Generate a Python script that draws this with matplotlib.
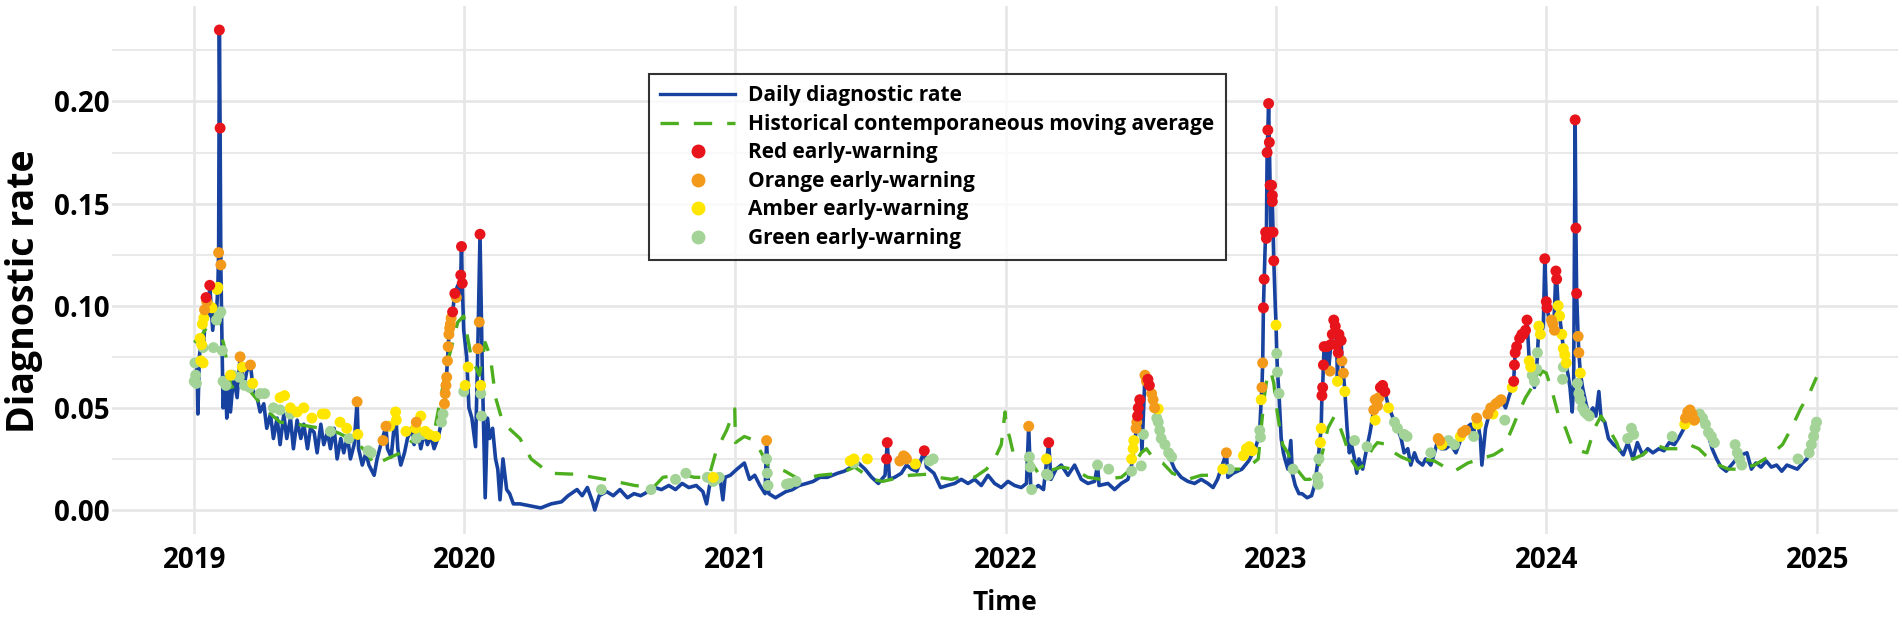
import matplotlib
matplotlib.use('Agg')
import matplotlib.pyplot as plt
from matplotlib.lines import Line2D
import pandas as pd

# Daily diagnostic rate (key days)
rate_points = [
    ('2019-01-01', 0.063), ('2019-01-05', 0.070), ('2019-01-06', 0.047), ('2019-01-08', 0.075),
    ('2019-01-11', 0.085), ('2019-01-14', 0.082), ('2019-01-17', 0.104), ('2019-01-20', 0.095),
    ('2019-01-22', 0.110), ('2019-01-26', 0.088), ('2019-01-29', 0.100), ('2019-01-31', 0.095),
    ('2019-02-02', 0.110), ('2019-02-03', 0.126), ('2019-02-04', 0.235), ('2019-02-05', 0.187),
    ('2019-02-06', 0.120), ('2019-02-07', 0.095), ('2019-02-09', 0.050), ('2019-02-12', 0.065),
    ('2019-02-14', 0.045), ('2019-02-16', 0.062), ('2019-02-19', 0.048), ('2019-02-23', 0.065),
    ('2019-02-28', 0.055), ('2019-03-04', 0.075), ('2019-03-09', 0.060), ('2019-03-13', 0.068),
    ('2019-03-18', 0.071), ('2019-03-22', 0.058), ('2019-03-27', 0.055), ('2019-03-31', 0.048),
    ('2019-04-05', 0.052), ('2019-04-09', 0.040), ('2019-04-14', 0.047), ('2019-04-18', 0.035),
    ('2019-04-23', 0.045), ('2019-04-27', 0.032), ('2019-05-02', 0.047), ('2019-05-06', 0.035),
    ('2019-05-11', 0.045), ('2019-05-15', 0.030), ('2019-05-20', 0.044), ('2019-05-25', 0.035),
    ('2019-05-29', 0.042), ('2019-06-03', 0.030), ('2019-06-07', 0.040), ('2019-06-12', 0.038),
    ('2019-06-16', 0.028), ('2019-06-21', 0.042), ('2019-06-25', 0.032), ('2019-06-30', 0.038),
    ('2019-07-04', 0.030), ('2019-07-09', 0.040), ('2019-07-13', 0.025), ('2019-07-18', 0.035),
    ('2019-07-22', 0.028), ('2019-07-27', 0.036), ('2019-07-31', 0.025), ('2019-08-05', 0.032),
    ('2019-08-09', 0.053), ('2019-08-11', 0.030), ('2019-08-16', 0.022), ('2019-08-21', 0.028),
    ('2019-08-25', 0.022), ('2019-09-01', 0.017), ('2019-09-05', 0.025), ('2019-09-10', 0.032),
    ('2019-09-17', 0.041), ('2019-09-19', 0.030), ('2019-09-24', 0.026), ('2019-09-30', 0.048),
    ('2019-10-03', 0.030), ('2019-10-07', 0.022), ('2019-10-12', 0.028), ('2019-10-16', 0.035),
    ('2019-10-21', 0.040), ('2019-10-25', 0.032), ('2019-10-28', 0.043), ('2019-11-03', 0.030),
    ('2019-11-08', 0.038), ('2019-11-12', 0.032), ('2019-11-17', 0.036), ('2019-11-21', 0.030),
    ('2019-11-26', 0.035), ('2019-12-01', 0.043), ('2019-12-05', 0.052), ('2019-12-07', 0.061),
    ('2019-12-09', 0.073), ('2019-12-11', 0.086), ('2019-12-14', 0.094), ('2019-12-16', 0.097),
    ('2019-12-19', 0.106), ('2019-12-23', 0.110), ('2019-12-26', 0.105), ('2019-12-27', 0.115),
    ('2019-12-28', 0.129), ('2019-12-29', 0.111), ('2019-12-31', 0.088), ('2020-01-04', 0.075),
    ('2020-01-07', 0.050), ('2020-01-11', 0.045), ('2020-01-16', 0.031), ('2020-01-19', 0.079),
    ('2020-01-22', 0.135), ('2020-01-25', 0.070), ('2020-01-29', 0.006), ('2020-02-01', 0.045),
    ('2020-02-04', 0.035), ('2020-02-08', 0.040), ('2020-02-12', 0.025), ('2020-02-15', 0.020),
    ('2020-02-18', 0.005), ('2020-02-22', 0.025), ('2020-02-27', 0.010), ('2020-03-02', 0.008),
    ('2020-03-07', 0.003), ('2020-03-16', 0.003), ('2020-03-30', 0.002), ('2020-04-13', 0.001),
    ('2020-04-27', 0.003), ('2020-05-11', 0.004), ('2020-05-20', 0.007), ('2020-06-01', 0.010),
    ('2020-06-08', 0.007), ('2020-06-15', 0.011), ('2020-06-22', 0.004), ('2020-06-25', 0.000),
    ('2020-07-01', 0.007), ('2020-07-11', 0.009), ('2020-07-20', 0.007), ('2020-07-29', 0.010),
    ('2020-08-08', 0.006), ('2020-08-17', 0.008), ('2020-08-26', 0.007), ('2020-09-05', 0.009),
    ('2020-09-14', 0.011), ('2020-09-23', 0.010), ('2020-10-03', 0.012), ('2020-10-12', 0.010),
    ('2020-10-21', 0.013), ('2020-10-30', 0.011), ('2020-11-09', 0.012), ('2020-11-18', 0.009),
    ('2020-11-23', 0.003), ('2020-11-27', 0.012), ('2020-12-07', 0.014), ('2020-12-11', 0.016),
    ('2020-12-15', 0.005), ('2020-12-18', 0.016), ('2020-12-25', 0.017), ('2021-01-03', 0.020),
    ('2021-01-13', 0.023), ('2021-01-20', 0.015), ('2021-01-27', 0.017), ('2021-02-03', 0.012),
    ('2021-02-10', 0.008), ('2021-02-12', 0.034), ('2021-02-15', 0.008), ('2021-02-24', 0.006),
    ('2021-03-10', 0.009), ('2021-03-19', 0.010), ('2021-03-28', 0.012), ('2021-04-07', 0.013),
    ('2021-04-16', 0.014), ('2021-04-25', 0.016), ('2021-05-05', 0.016), ('2021-05-19', 0.018),
    ('2021-05-28', 0.019), ('2021-06-06', 0.021), ('2021-06-16', 0.023), ('2021-06-25', 0.020),
    ('2021-07-04', 0.016), ('2021-07-13', 0.013), ('2021-07-22', 0.017), ('2021-07-25', 0.033),
    ('2021-07-28', 0.015), ('2021-08-04', 0.016), ('2021-08-13', 0.018), ('2021-08-20', 0.022),
    ('2021-08-27', 0.020), ('2021-09-03', 0.019), ('2021-09-13', 0.029), ('2021-09-16', 0.021),
    ('2021-09-26', 0.018), ('2021-10-05', 0.011), ('2021-10-14', 0.012), ('2021-10-24', 0.013),
    ('2021-11-02', 0.015), ('2021-11-11', 0.013), ('2021-11-20', 0.015), ('2021-11-29', 0.012),
    ('2021-12-08', 0.017), ('2021-12-17', 0.013), ('2021-12-26', 0.011), ('2022-01-04', 0.014),
    ('2022-01-13', 0.012), ('2022-01-22', 0.011), ('2022-01-29', 0.013), ('2022-02-01', 0.041),
    ('2022-02-04', 0.009), ('2022-02-14', 0.012), ('2022-02-21', 0.010), ('2022-02-28', 0.033),
    ('2022-03-03', 0.015), ('2022-03-10', 0.020), ('2022-03-17', 0.022), ('2022-03-26', 0.017),
    ('2022-04-04', 0.022), ('2022-04-13', 0.015), ('2022-04-22', 0.013), ('2022-05-01', 0.014),
    ('2022-05-05', 0.022), ('2022-05-07', 0.012), ('2022-05-19', 0.013), ('2022-05-28', 0.010),
    ('2022-06-06', 0.013), ('2022-06-15', 0.015), ('2022-06-20', 0.022), ('2022-06-24', 0.032),
    ('2022-06-28', 0.046), ('2022-07-01', 0.054), ('2022-07-04', 0.029), ('2022-07-08', 0.066),
    ('2022-07-11', 0.063), ('2022-07-14', 0.061), ('2022-07-19', 0.054), ('2022-07-23', 0.048),
    ('2022-07-28', 0.040), ('2022-08-01', 0.035), ('2022-08-06', 0.030), ('2022-08-10', 0.026),
    ('2022-08-17', 0.020), ('2022-08-26', 0.016), ('2022-09-04', 0.014), ('2022-09-13', 0.013),
    ('2022-09-22', 0.015), ('2022-10-01', 0.013), ('2022-10-08', 0.011), ('2022-10-14', 0.015),
    ('2022-10-26', 0.028), ('2022-10-28', 0.016), ('2022-11-04', 0.018), ('2022-11-16', 0.020),
    ('2022-11-25', 0.024), ('2022-12-04', 0.030), ('2022-12-08', 0.035), ('2022-12-10', 0.039),
    ('2022-12-12', 0.054), ('2022-12-13', 0.060), ('2022-12-14', 0.072), ('2022-12-15', 0.099),
    ('2022-12-16', 0.113), ('2022-12-17', 0.125), ('2022-12-18', 0.136), ('2022-12-19', 0.133),
    ('2022-12-20', 0.175), ('2022-12-21', 0.186), ('2022-12-22', 0.199), ('2022-12-23', 0.180),
    ('2022-12-24', 0.159), ('2022-12-25', 0.136), ('2022-12-26', 0.159), ('2022-12-27', 0.151),
    ('2022-12-28', 0.136), ('2022-12-29', 0.122), ('2022-12-31', 0.100), ('2023-01-01', 0.091),
    ('2023-01-02', 0.077), ('2023-01-03', 0.068), ('2023-01-05', 0.057), ('2023-01-08', 0.035),
    ('2023-01-11', 0.028), ('2023-01-13', 0.025), ('2023-01-17', 0.020), ('2023-01-21', 0.034),
    ('2023-01-23', 0.018), ('2023-01-27', 0.012), ('2023-02-01', 0.008), ('2023-02-05', 0.008),
    ('2023-02-12', 0.006), ('2023-02-18', 0.007), ('2023-02-22', 0.012), ('2023-02-27', 0.025),
    ('2023-03-01', 0.033), ('2023-03-03', 0.040), ('2023-03-04', 0.056), ('2023-03-05', 0.060),
    ('2023-03-06', 0.071), ('2023-03-07', 0.080), ('2023-03-09', 0.073), ('2023-03-11', 0.080),
    ('2023-03-13', 0.068), ('2023-03-16', 0.081), ('2023-03-18', 0.086), ('2023-03-20', 0.093),
    ('2023-03-22', 0.090), ('2023-03-24', 0.081), ('2023-03-25', 0.063), ('2023-03-26', 0.077),
    ('2023-03-27', 0.086), ('2023-03-30', 0.083), ('2023-03-31', 0.073), ('2023-04-02', 0.067),
    ('2023-04-04', 0.058), ('2023-04-07', 0.040), ('2023-04-10', 0.028), ('2023-04-13', 0.032),
    ('2023-04-17', 0.025), ('2023-04-20', 0.018), ('2023-04-23', 0.025), ('2023-04-28', 0.020),
    ('2023-05-04', 0.031), ('2023-05-08', 0.038), ('2023-05-13', 0.049), ('2023-05-18', 0.051),
    ('2023-05-22', 0.060), ('2023-05-25', 0.061), ('2023-05-28', 0.058), ('2023-06-01', 0.052),
    ('2023-06-05', 0.048), ('2023-06-10', 0.043), ('2023-06-14', 0.040), ('2023-06-19', 0.035),
    ('2023-06-23', 0.028), ('2023-06-28', 0.030), ('2023-07-02', 0.022), ('2023-07-07', 0.028),
    ('2023-07-11', 0.024), ('2023-07-18', 0.022), ('2023-07-22', 0.025), ('2023-07-29', 0.022),
    ('2023-08-03', 0.028), ('2023-08-08', 0.035), ('2023-08-12', 0.030), ('2023-08-18', 0.030),
    ('2023-08-25', 0.032), ('2023-09-01', 0.028), ('2023-09-08', 0.035), ('2023-09-14', 0.040),
    ('2023-09-21', 0.042), ('2023-09-25', 0.038), ('2023-09-29', 0.046), ('2023-10-04', 0.035),
    ('2023-10-06', 0.022), ('2023-10-11', 0.040), ('2023-10-18', 0.050), ('2023-10-25', 0.052),
    ('2023-11-01', 0.054), ('2023-11-07', 0.050), ('2023-11-12', 0.056), ('2023-11-16', 0.060),
    ('2023-11-18', 0.063), ('2023-11-19', 0.071), ('2023-11-20', 0.077), ('2023-11-22', 0.080),
    ('2023-11-24', 0.078), ('2023-11-26', 0.084), ('2023-11-29', 0.086), ('2023-12-01', 0.086),
    ('2023-12-04', 0.088), ('2023-12-06', 0.093), ('2023-12-09', 0.073), ('2023-12-13', 0.066),
    ('2023-12-16', 0.060), ('2023-12-19', 0.069), ('2023-12-22', 0.090), ('2023-12-25', 0.086),
    ('2023-12-28', 0.090), ('2023-12-30', 0.123), ('2024-01-01', 0.102), ('2024-01-02', 0.099),
    ('2024-01-05', 0.093), ('2024-01-08', 0.091), ('2024-01-11', 0.088), ('2024-01-14', 0.117),
    ('2024-01-15', 0.113), ('2024-01-17', 0.100), ('2024-01-19', 0.095), ('2024-01-22', 0.086),
    ('2024-01-24', 0.079), ('2024-01-27', 0.072), ('2024-01-30', 0.067), ('2024-02-02', 0.060),
    ('2024-02-05', 0.048), ('2024-02-07', 0.062), ('2024-02-09', 0.191), ('2024-02-10', 0.138),
    ('2024-02-11', 0.106), ('2024-02-13', 0.085), ('2024-02-14', 0.077), ('2024-02-16', 0.067),
    ('2024-02-19', 0.060), ('2024-02-23', 0.053), ('2024-02-27', 0.047), ('2024-03-04', 0.050),
    ('2024-03-08', 0.046), ('2024-03-12', 0.058), ('2024-03-15', 0.045), ('2024-03-20', 0.043),
    ('2024-03-25', 0.035), ('2024-04-01', 0.032), ('2024-04-08', 0.030), ('2024-04-14', 0.027),
    ('2024-04-20', 0.033), ('2024-04-27', 0.025), ('2024-05-03', 0.033), ('2024-05-10', 0.027),
    ('2024-05-17', 0.030), ('2024-05-24', 0.028), ('2024-06-01', 0.030), ('2024-06-08', 0.029),
    ('2024-06-15', 0.033), ('2024-06-22', 0.032), ('2024-06-29', 0.036), ('2024-07-05', 0.040),
    ('2024-07-10', 0.048), ('2024-07-16', 0.047), ('2024-07-22', 0.046), ('2024-08-01', 0.042),
    ('2024-08-06', 0.038), ('2024-08-12', 0.030), ('2024-08-18', 0.025), ('2024-08-24', 0.021),
    ('2024-08-31', 0.019), ('2024-09-07', 0.022), ('2024-09-14', 0.025), ('2024-09-21', 0.027),
    ('2024-09-28', 0.028), ('2024-10-04', 0.020), ('2024-10-10', 0.023), ('2024-10-17', 0.021),
    ('2024-10-24', 0.024), ('2024-10-31', 0.021), ('2024-11-07', 0.022), ('2024-11-14', 0.019),
    ('2024-11-21', 0.022), ('2024-11-28', 0.021), ('2024-12-05', 0.020), ('2024-12-12', 0.023),
    ('2024-12-18', 0.025), ('2024-12-22', 0.030), ('2024-12-26', 0.036), ('2024-12-31', 0.042),
]

# Historical contemporaneous moving average
average_points = [
    ('2019-01-01', 0.082), ('2019-01-10', 0.085), ('2019-01-23', 0.092), ('2019-02-01', 0.097),
    ('2019-02-07', 0.085), ('2019-02-10', 0.081), ('2019-02-20', 0.060), ('2019-03-04', 0.062),
    ('2019-03-18', 0.058), ('2019-04-05', 0.050), ('2019-04-27', 0.043), ('2019-05-20', 0.042),
    ('2019-06-21', 0.040), ('2019-07-13', 0.038), ('2019-08-05', 0.034), ('2019-08-23', 0.028),
    ('2019-09-01', 0.022), ('2019-09-18', 0.025), ('2019-10-07', 0.028), ('2019-10-25', 0.035),
    ('2019-11-21', 0.038), ('2019-12-09', 0.072), ('2019-12-23', 0.092), ('2019-12-31', 0.095),
    ('2020-01-10', 0.075), ('2020-01-21', 0.066), ('2020-01-29', 0.082), ('2020-02-05', 0.075),
    ('2020-02-12', 0.055), ('2020-02-20', 0.045), ('2020-03-01', 0.040), ('2020-03-16', 0.035),
    ('2020-03-31', 0.025), ('2020-04-25', 0.018), ('2020-05-30', 0.0175), ('2020-07-09', 0.015),
    ('2020-08-18', 0.012), ('2020-09-12', 0.011), ('2020-09-25', 0.016), ('2020-10-23', 0.0175),
    ('2020-11-06', 0.016), ('2020-11-26', 0.016), ('2020-12-06', 0.029), ('2020-12-20', 0.039),
    ('2020-12-31', 0.0495), ('2021-01-01', 0.033), ('2021-01-13', 0.036), ('2021-01-27', 0.034),
    ('2021-02-14', 0.022), ('2021-03-09', 0.019), ('2021-03-28', 0.015), ('2021-04-25', 0.017),
    ('2021-05-23', 0.018), ('2021-06-11', 0.021), ('2021-07-05', 0.015), ('2021-07-19', 0.014),
    ('2021-08-11', 0.016), ('2021-08-25', 0.017), ('2021-09-17', 0.0175), ('2021-10-01', 0.016),
    ('2021-10-20', 0.015), ('2021-11-08', 0.017), ('2021-11-20', 0.016), ('2021-12-06', 0.020),
    ('2021-12-17', 0.025), ('2021-12-26', 0.032), ('2021-12-31', 0.048), ('2022-01-02', 0.040),
    ('2022-01-06', 0.036), ('2022-01-11', 0.028), ('2022-01-22', 0.026), ('2022-02-05', 0.023),
    ('2022-02-14', 0.018), ('2022-02-27', 0.019), ('2022-03-17', 0.021), ('2022-04-02', 0.020),
    ('2022-04-22', 0.016), ('2022-05-10', 0.015), ('2022-06-06', 0.016), ('2022-06-19', 0.020),
    ('2022-07-03', 0.028), ('2022-07-10', 0.030), ('2022-07-20', 0.025), ('2022-08-01', 0.023),
    ('2022-08-14', 0.018), ('2022-09-04', 0.015), ('2022-09-22', 0.017), ('2022-10-10', 0.017),
    ('2022-10-28', 0.020), ('2022-11-15', 0.020), ('2022-11-28', 0.022), ('2022-12-08', 0.025),
    ('2022-12-12', 0.040), ('2022-12-16', 0.055), ('2022-12-20', 0.065), ('2022-12-25', 0.068),
    ('2022-12-29', 0.062), ('2023-01-01', 0.052), ('2023-01-06', 0.040), ('2023-01-10', 0.032),
    ('2023-01-17', 0.028), ('2023-01-21', 0.024), ('2023-01-29', 0.020), ('2023-02-09', 0.015),
    ('2023-02-16', 0.015), ('2023-02-25', 0.018), ('2023-03-06', 0.030), ('2023-03-12', 0.040),
    ('2023-03-21', 0.046), ('2023-03-27', 0.042), ('2023-04-03', 0.035), ('2023-04-12', 0.025),
    ('2023-04-21', 0.020), ('2023-04-30', 0.022), ('2023-05-11', 0.030), ('2023-05-18', 0.033),
    ('2023-06-01', 0.032), ('2023-06-10', 0.028), ('2023-06-19', 0.026), ('2023-07-02', 0.024),
    ('2023-07-18', 0.025), ('2023-08-03', 0.024), ('2023-08-17', 0.021), ('2023-08-30', 0.019),
    ('2023-09-17', 0.023), ('2023-10-04', 0.025), ('2023-10-22', 0.027), ('2023-11-04', 0.030),
    ('2023-11-16', 0.040), ('2023-11-25', 0.048), ('2023-12-04', 0.055), ('2023-12-16', 0.062),
    ('2023-12-27', 0.068), ('2024-01-01', 0.067), ('2024-01-09', 0.058), ('2024-01-17', 0.047),
    ('2024-01-27', 0.040), ('2024-02-06', 0.030), ('2024-02-15', 0.029), ('2024-02-25', 0.028),
    ('2024-03-06', 0.040), ('2024-03-15', 0.046), ('2024-03-25', 0.040), ('2024-04-05', 0.033),
    ('2024-04-12', 0.026), ('2024-04-28', 0.025), ('2024-05-10', 0.027), ('2024-05-27', 0.032),
    ('2024-06-10', 0.030), ('2024-06-28', 0.030), ('2024-07-12', 0.032), ('2024-07-25', 0.030),
    ('2024-08-08', 0.025), ('2024-08-21', 0.022), ('2024-09-03', 0.020), ('2024-09-20', 0.020),
    ('2024-10-08', 0.022), ('2024-10-27', 0.026), ('2024-11-15', 0.032), ('2024-11-27', 0.040),
    ('2024-12-10', 0.050), ('2024-12-20', 0.056), ('2024-12-31', 0.065),
]

red_points = [
    ('2019-01-17', 0.104), ('2019-01-22', 0.110), ('2019-02-04', 0.235), ('2019-02-05', 0.187),
    ('2019-12-16', 0.097), ('2019-12-19', 0.106), ('2019-12-27', 0.115), ('2019-12-28', 0.129),
    ('2019-12-29', 0.111), ('2020-01-22', 0.135), ('2021-07-25', 0.033), ('2021-07-24', 0.025),
    ('2021-09-13', 0.029), ('2022-02-28', 0.033), ('2022-06-28', 0.046), ('2022-06-29', 0.050),
    ('2022-07-01', 0.054), ('2022-07-12', 0.064), ('2022-07-14', 0.061), ('2022-12-15', 0.099),
    ('2022-12-16', 0.113), ('2022-12-18', 0.136), ('2022-12-19', 0.133), ('2022-12-20', 0.175),
    ('2022-12-21', 0.186), ('2022-12-22', 0.199), ('2022-12-23', 0.180), ('2022-12-24', 0.159),
    ('2022-12-25', 0.136), ('2022-12-26', 0.159), ('2022-12-27', 0.151), ('2022-12-27', 0.154),
    ('2022-12-28', 0.136), ('2022-12-29', 0.122), ('2023-03-04', 0.056), ('2023-03-05', 0.060),
    ('2023-03-06', 0.071), ('2023-03-07', 0.080), ('2023-03-11', 0.080), ('2023-03-16', 0.081),
    ('2023-03-18', 0.086), ('2023-03-20', 0.093), ('2023-03-22', 0.090), ('2023-03-24', 0.081),
    ('2023-03-26', 0.077), ('2023-03-27', 0.086), ('2023-03-30', 0.083), ('2023-05-22', 0.060),
    ('2023-05-25', 0.061), ('2023-05-28', 0.058), ('2023-11-18', 0.063), ('2023-11-19', 0.071),
    ('2023-11-20', 0.077), ('2023-11-22', 0.080), ('2023-11-26', 0.084), ('2023-11-29', 0.086),
    ('2023-12-01', 0.086), ('2023-12-04', 0.088), ('2023-12-06', 0.093), ('2023-12-30', 0.123),
    ('2024-01-01', 0.102), ('2024-01-02', 0.099), ('2024-01-14', 0.117), ('2024-01-15', 0.113),
    ('2024-02-09', 0.191), ('2024-02-10', 0.138), ('2024-02-11', 0.106),
]

orange_points = [
    ('2019-01-15', 0.098), ('2019-01-18', 0.102), ('2019-02-03', 0.126), ('2019-02-06', 0.120),
    ('2019-03-04', 0.075), ('2019-03-18', 0.071), ('2019-08-09', 0.053), ('2019-09-13', 0.034),
    ('2019-09-17', 0.041), ('2019-10-28', 0.043), ('2019-12-05', 0.052), ('2019-12-06', 0.057),
    ('2019-12-07', 0.061), ('2019-12-08', 0.065), ('2019-12-09', 0.073), ('2019-12-10', 0.080),
    ('2019-12-11', 0.086), ('2019-12-12', 0.089), ('2019-12-13', 0.091), ('2019-12-14', 0.094),
    ('2019-12-21', 0.104), ('2020-01-19', 0.079), ('2020-01-21', 0.092), ('2021-02-12', 0.034),
    ('2021-08-11', 0.024), ('2021-08-16', 0.0265), ('2021-08-18', 0.026), ('2021-08-20', 0.025),
    ('2022-02-01', 0.041), ('2022-06-26', 0.040), ('2022-06-27', 0.043), ('2022-07-08', 0.066),
    ('2022-07-10', 0.063), ('2022-07-17', 0.057), ('2022-07-19', 0.054), ('2022-07-21', 0.050),
    ('2022-10-26', 0.028), ('2022-12-13', 0.060), ('2022-12-14', 0.072), ('2023-03-15', 0.068),
    ('2023-03-31', 0.073), ('2023-04-02', 0.067), ('2023-05-13', 0.049), ('2023-05-15', 0.054),
    ('2023-05-18', 0.051), ('2023-05-20', 0.055), ('2023-08-08', 0.035), ('2023-08-10', 0.034),
    ('2023-09-10', 0.038), ('2023-09-14', 0.039), ('2023-09-29', 0.045), ('2023-10-14', 0.047),
    ('2023-10-18', 0.050), ('2023-10-25', 0.052), ('2023-10-29', 0.053), ('2023-11-01', 0.054),
    ('2024-01-08', 0.093), ('2024-01-10', 0.091), ('2024-01-12', 0.088), ('2024-02-13', 0.085),
    ('2024-02-14', 0.077), ('2024-07-07', 0.045), ('2024-07-10', 0.048), ('2024-07-13', 0.049),
    ('2024-07-16', 0.047), ('2024-07-19', 0.044),
]

amber_points = [
    ('2019-01-09', 0.084), ('2019-01-10', 0.073), ('2019-01-11', 0.081), ('2019-01-12', 0.091),
    ('2019-01-13', 0.072), ('2019-01-14', 0.094), ('2019-01-21', 0.100), ('2019-01-25', 0.099),
    ('2019-02-01', 0.108), ('2019-02-02', 0.109), ('2019-02-19', 0.066), ('2019-03-07', 0.070),
    ('2019-03-21', 0.062), ('2019-04-27', 0.055), ('2019-05-03', 0.056), ('2019-05-11', 0.050),
    ('2019-05-20', 0.048), ('2019-05-29', 0.050), ('2019-06-09', 0.045), ('2019-06-23', 0.047),
    ('2019-06-27', 0.047), ('2019-07-17', 0.043), ('2019-07-26', 0.040), ('2019-08-10', 0.037),
    ('2019-09-22', 0.041), ('2019-09-30', 0.048), ('2019-10-01', 0.044), ('2019-10-14', 0.0385),
    ('2019-10-27', 0.040), ('2019-11-03', 0.046), ('2019-11-09', 0.0385), ('2019-11-14', 0.037),
    ('2019-11-23', 0.036), ('2020-01-02', 0.061), ('2020-01-06', 0.070), ('2020-01-23', 0.061),
    ('2020-12-02', 0.016), ('2021-06-05', 0.024), ('2021-06-10', 0.025), ('2021-06-28', 0.025),
    ('2021-09-01', 0.0225), ('2022-02-25', 0.025), ('2022-06-20', 0.025), ('2022-06-22', 0.030),
    ('2022-06-23', 0.034), ('2022-07-26', 0.0495), ('2022-10-21', 0.020), ('2022-11-18', 0.0266),
    ('2022-11-22', 0.030), ('2022-11-26', 0.031), ('2022-11-30', 0.029), ('2022-12-12', 0.054),
    ('2023-01-01', 0.0905), ('2023-03-02', 0.033), ('2023-03-03', 0.040), ('2023-03-25', 0.063),
    ('2023-04-04', 0.058), ('2023-05-15', 0.044), ('2023-06-02', 0.050), ('2023-08-13', 0.032),
    ('2023-09-07', 0.036), ('2023-09-30', 0.042), ('2023-10-21', 0.047), ('2023-11-16', 0.060),
    ('2023-12-09', 0.073), ('2023-12-11', 0.070), ('2023-12-22', 0.090), ('2023-12-24', 0.086),
    ('2024-01-17', 0.100), ('2024-01-19', 0.095), ('2024-01-22', 0.086), ('2024-01-24', 0.079),
    ('2024-01-26', 0.076), ('2024-01-28', 0.072), ('2024-02-16', 0.067), ('2024-07-06', 0.042),
    ('2024-07-18', 0.044),
]

green_points = [
    ('2019-01-01', 0.063), ('2019-01-02', 0.072), ('2019-01-03', 0.066), ('2019-01-04', 0.062),
    ('2019-01-13', 0.0795), ('2019-01-27', 0.0795), ('2019-01-31', 0.093), ('2019-02-04', 0.096),
    ('2019-02-06', 0.097), ('2019-02-08', 0.078), ('2019-02-09', 0.063), ('2019-02-13', 0.061),
    ('2019-02-22', 0.066), ('2019-03-03', 0.065), ('2019-03-10', 0.061), ('2019-03-17', 0.060),
    ('2019-03-31', 0.057), ('2019-04-06', 0.057), ('2019-04-18', 0.050), ('2019-04-27', 0.049),
    ('2019-05-11', 0.047), ('2019-07-04', 0.0385), ('2019-07-29', 0.035), ('2019-08-24', 0.029),
    ('2019-08-28', 0.028), ('2019-10-28', 0.035), ('2019-11-06', 0.037), ('2019-12-01', 0.043),
    ('2019-12-03', 0.047), ('2019-12-31', 0.058), ('2020-01-23', 0.057), ('2020-01-24', 0.046),
    ('2020-07-04', 0.010), ('2020-09-09', 0.010), ('2020-10-12', 0.015), ('2020-10-26', 0.018),
    ('2020-11-24', 0.016), ('2020-12-02', 0.014), ('2020-12-06', 0.015), ('2020-12-10', 0.016),
    ('2021-02-12', 0.025), ('2021-02-13', 0.018), ('2021-02-14', 0.012), ('2021-03-11', 0.0126),
    ('2021-03-15', 0.013), ('2021-03-24', 0.014), ('2021-06-10', 0.023), ('2021-09-20', 0.024),
    ('2021-09-25', 0.025), ('2022-02-02', 0.026), ('2022-02-03', 0.021), ('2022-02-05', 0.010),
    ('2022-02-25', 0.0175), ('2022-02-27', 0.017), ('2022-05-05', 0.022), ('2022-05-20', 0.020),
    ('2022-06-20', 0.019), ('2022-07-03', 0.0216), ('2022-07-06', 0.037), ('2022-07-24', 0.045),
    ('2022-07-26', 0.043), ('2022-07-28', 0.039), ('2022-07-30', 0.035), ('2022-08-04', 0.032),
    ('2022-08-09', 0.028), ('2022-08-13', 0.026), ('2022-10-30', 0.020), ('2022-12-10', 0.039),
    ('2022-12-11', 0.0356), ('2023-01-02', 0.0766), ('2023-01-03', 0.0675), ('2023-01-05', 0.057),
    ('2023-01-24', 0.020), ('2023-02-26', 0.016), ('2023-02-27', 0.0126), ('2023-02-28', 0.025),
    ('2023-04-17', 0.034), ('2023-05-04', 0.031), ('2023-06-10', 0.043), ('2023-06-14', 0.040),
    ('2023-06-23', 0.037), ('2023-06-27', 0.036), ('2023-07-29', 0.028), ('2023-08-22', 0.034),
    ('2023-08-30', 0.032), ('2023-09-25', 0.036), ('2023-11-06', 0.044), ('2023-12-13', 0.066),
    ('2023-12-16', 0.063), ('2023-12-19', 0.069), ('2023-12-20', 0.077), ('2024-01-23', 0.064),
    ('2024-01-24', 0.070), ('2024-02-12', 0.062), ('2024-02-14', 0.057), ('2024-02-16', 0.054),
    ('2024-02-19', 0.050), ('2024-02-22', 0.048), ('2024-02-25', 0.047), ('2024-02-28', 0.046),
    ('2024-04-20', 0.035), ('2024-04-25', 0.040), ('2024-04-28', 0.037), ('2024-06-19', 0.036),
    ('2024-07-26', 0.047), ('2024-07-30', 0.045), ('2024-08-03', 0.042), ('2024-08-07', 0.038),
    ('2024-08-11', 0.036), ('2024-08-15', 0.033), ('2024-09-12', 0.032), ('2024-09-15', 0.028),
    ('2024-09-18', 0.025), ('2024-09-21', 0.022), ('2024-12-06', 0.025), ('2024-12-21', 0.028),
    ('2024-12-24', 0.032), ('2024-12-27', 0.036), ('2024-12-29', 0.040), ('2024-12-31', 0.043),
]

year_ticks = ['2019', '2020', '2021', '2022', '2023', '2024', '2025']
rate_ticks = [0.00, 0.05, 0.10, 0.15, 0.20]


def to_frame(points):
    df = pd.DataFrame(points, columns=['date', 'value'])
    df['date'] = pd.to_datetime(df['date'])
    return df


plt.rcParams['font.family'] = ['Open Sans', 'DejaVu Sans']
plt.rcParams['font.weight'] = 'bold'

fig = plt.figure(figsize=(19.02, 6.22), dpi=100)
ax = fig.add_axes([112 / 1902, 1 - 534 / 622, 1786 / 1902, 528 / 622])

rate = to_frame(rate_points)
avg = to_frame(average_points)

ax.plot(rate['date'], rate['value'], color='#1842A0', lw=2.6, zorder=3,
        solid_joinstyle='round')
ax.plot(avg['date'], avg['value'], color='#4DAF1F', lw=2.4, dashes=(5.5, 4.5), zorder=4)

dot_sets = [
    (green_points, '#A3D397'),
    (amber_points, '#FFE600'),
    (orange_points, '#F39A1B'),
    (red_points, '#E8141B'),
]
for i, (pts, col) in enumerate(dot_sets):
    d = to_frame(pts)
    ax.scatter(d['date'], d['value'], s=62, color=col, edgecolors='none', zorder=5 + i)

ax.set_xlim(pd.Timestamp('2018-09-12'), pd.Timestamp('2025-04-20'))
ax.set_ylim(-0.01175, 0.24675)

ax.set_xticks([pd.Timestamp(y + '-01-01') for y in year_ticks])
ax.set_xticklabels(year_ticks)
ax.set_yticks(rate_ticks)
ax.set_yticklabels(['%.2f' % v for v in rate_ticks])
ax.set_yticks([0.025, 0.075, 0.125, 0.175, 0.225], minor=True)

ax.grid(True, which='major', color='#E6E6E6', lw=1.9, zorder=0)
ax.grid(True, which='minor', axis='y', color='#E9E9E9', lw=1.5, zorder=0)
ax.set_axisbelow(True)
for s in ax.spines.values():
    s.set_visible(False)
ax.tick_params(axis='both', which='both', length=0, labelsize=20)
ax.tick_params(axis='y', pad=2)
ax.tick_params(axis='x', pad=9)

ax.set_ylabel('Diagnostic rate', fontsize=27, fontweight='bold')
ax.yaxis.label.set_va('center')
ax.yaxis.set_label_coords((24 - 112) / 1786, 0.46)
ax.set_xlabel('Time', fontsize=19, fontweight='bold')
ax.xaxis.set_label_coords(0.5, -0.13)
ax.xaxis.label.set_va('center')

handles = [
    Line2D([], [], color='#1842A0', lw=2.4),
    Line2D([], [], color='#4DAF1F', lw=2.4, dashes=(5.5, 4.5)),
    Line2D([], [], ls='none', marker='o', ms=9, color='#E8141B'),
    Line2D([], [], ls='none', marker='o', ms=9, color='#F39A1B'),
    Line2D([], [], ls='none', marker='o', ms=9, color='#FFE600'),
    Line2D([], [], ls='none', marker='o', ms=9, color='#A3D397'),
]
labels = ['Daily diagnostic rate', 'Historical contemporaneous moving average',
          'Red early-warning', 'Orange early-warning', 'Amber early-warning',
          'Green early-warning']
leg = fig.legend(handles, labels, loc='upper left', bbox_to_anchor=(649 / 1902, 1 - 74 / 622),
                 frameon=True, fancybox=False, edgecolor='black', fontsize=15,
                 handlelength=3.6, handletextpad=0.6, labelspacing=0.36,
                 borderpad=0.55, borderaxespad=0)
leg.get_frame().set_linewidth(1.5)

fig.savefig('out.png', dpi=100)
